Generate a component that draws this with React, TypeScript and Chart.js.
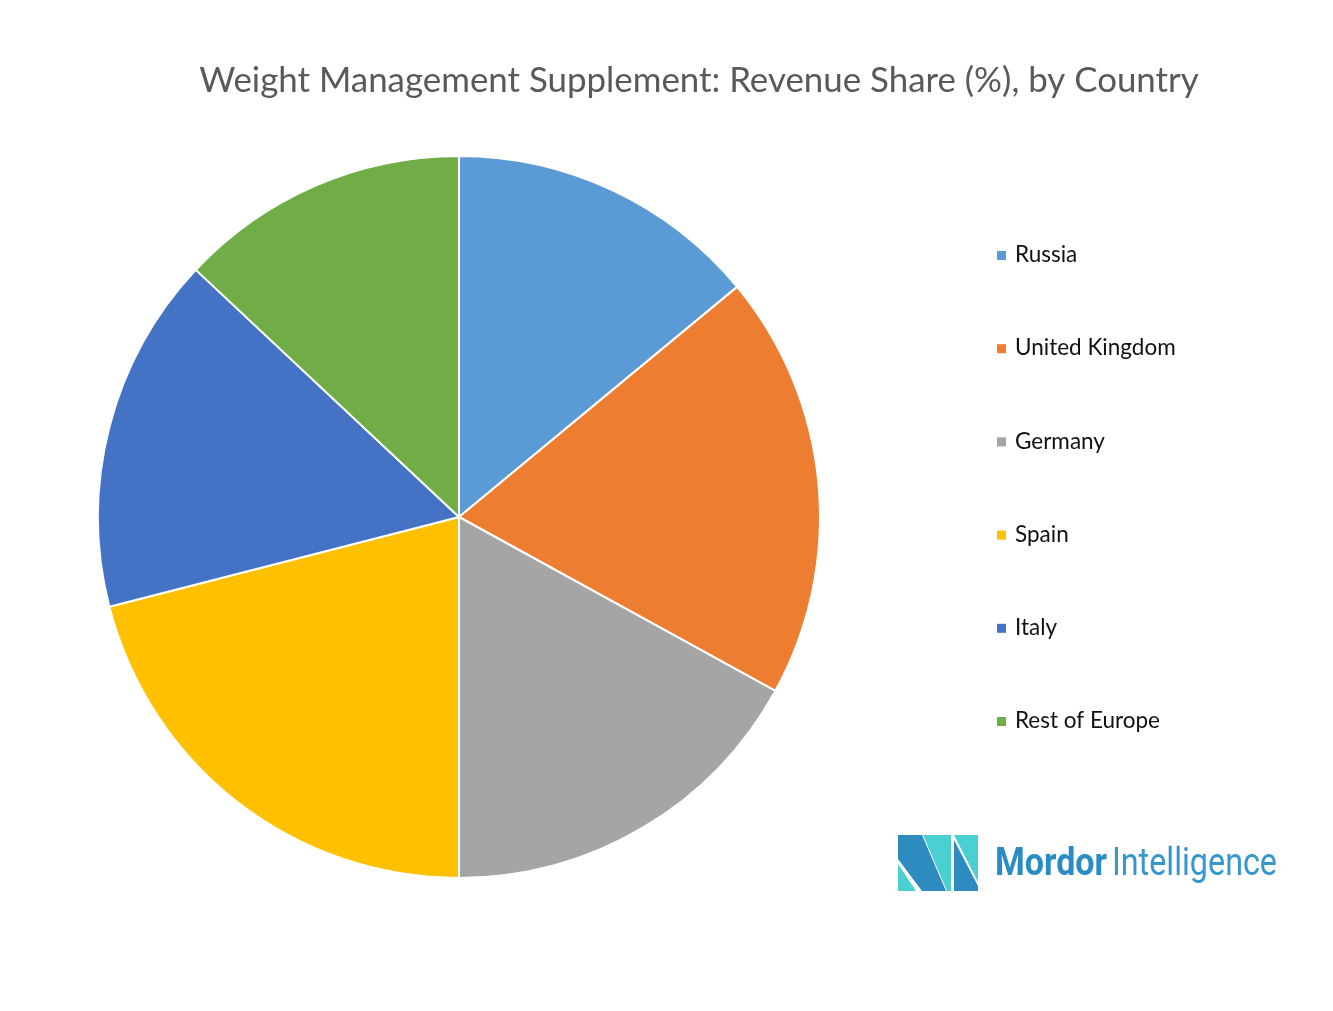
import React, { useEffect, useRef } from "react";
import { Chart, registerables } from "chart.js";

Chart.register(...registerables);

const categories = ["Russia", "United Kingdom", "Germany", "Spain", "Italy", "Rest of Europe"];
const shares = [14, 19, 17, 21, 16, 13];
const colors = ["#5B9BD5", "#ED7D31", "#A5A5A5", "#FFC000", "#4472C4", "#70AD47"];
const titleText = "Weight Management Supplement: Revenue Share (%), by Country";

const W = 1333;
const H = 1011;

export default function App() {
  const ref = useRef<HTMLCanvasElement>(null);

  useEffect(() => {
    const canvas = ref.current;
    if (!canvas) return;

    const overlay = {
      id: "overlay",
      afterDraw(chart: any) {
        const ctx: CanvasRenderingContext2D = chart.ctx;
        ctx.save();
        // Title
        let fs = 32;
        ctx.font = `${fs}px Lato`;
        const w = ctx.measureText(titleText).width;
        fs = (fs * 1000) / w;
        ctx.font = `${fs}px Lato`;
        ctx.fillStyle = "#595959";
        ctx.textAlign = "center";
        ctx.textBaseline = "middle";
        ctx.fillText(titleText, 699, 81);

        // Legend
        const labels: string[] = chart.data.labels;
        const bg: string[] = chart.data.datasets[0].backgroundColor;
        ctx.font = "22.5px Lato";
        ctx.textAlign = "left";
        labels.forEach((lab, i) => {
          const y = 255 + i * 93.2;
          ctx.fillStyle = bg[i];
          ctx.fillRect(997, y - 4, 9, 9);
          ctx.fillStyle = "#111111";
          ctx.fillText(lab, 1015, y);
        });
        ctx.restore();
      },
    };

    const chart = new Chart(canvas, {
      type: "pie",
      data: {
        labels: categories,
        datasets: [
          {
            data: shares,
            backgroundColor: colors,
            borderColor: "#FFFFFF",
            borderWidth: 2,
          },
        ],
      },
      options: {
        responsive: false,
        animation: false,
        events: [],
        layout: { padding: { left: 97, right: 512, top: 155, bottom: 132 } },
        plugins: {
          legend: { display: false },
          title: { display: false },
          tooltip: { enabled: false },
        },
      },
      plugins: [overlay],
    });
    return () => chart.destroy();
  }, []);

  return (
    <div style={{ position: "absolute", left: 0, top: 0, width: W, height: H, background: "#FFFFFF" }}>
      <canvas ref={ref} width={W} height={H} style={{ display: "block" }} />
      <svg
        width={400}
        height={70}
        style={{ position: "absolute", left: 890, top: 828 }}
        viewBox="0 0 400 70"
      >
        <g transform="translate(8,7)">
          <polygon points="0,0 24,0 48,56 24,56 0,24" fill="#2E8BC0" />
          <polygon points="0,29 0,56 18,56" fill="#4ACFD3" />
          <polygon points="25,0 53,0 53,56 49,56" fill="#4ACFD3" />
          <polygon points="56,0 80,0 80,47" fill="#4ACFD3" />
          <polygon points="56,5 80,51 80,56 56,56" fill="#2E8BC0" />
        </g>
        <text
          x={105}
          y={47}
          fontFamily="Roboto"
          fontWeight="bold"
          fontSize={39}
          fill="#2A8CC4"
          textLength={112}
          lengthAdjust="spacingAndGlyphs"
        >
          Mordor
        </text>
        <text
          x={222}
          y={47}
          fontFamily="Roboto"
          fontSize={39}
          fill="#3597CE"
          textLength={165}
          lengthAdjust="spacingAndGlyphs"
        >
          Intelligence
        </text>
      </svg>
    </div>
  );
}
